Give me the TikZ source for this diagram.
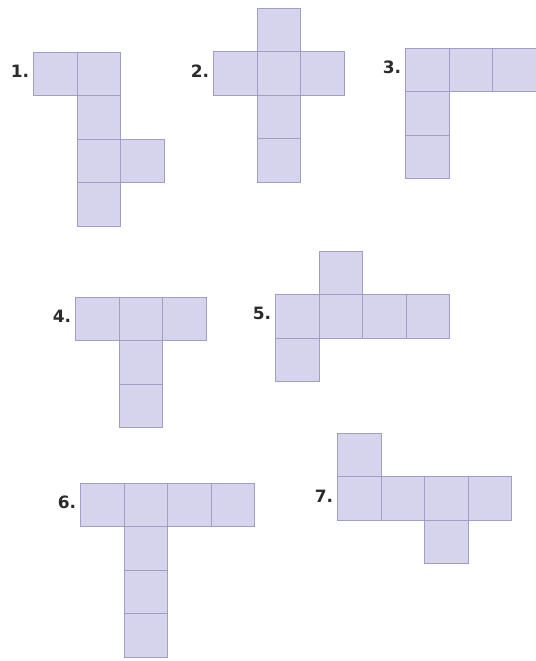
\documentclass[tikz,border=0pt]{standalone}
\usepackage{fontspec}
\setmainfont{DejaVu Sans}
\usetikzlibrary{positioning}
\definecolor{FaceFill}{HTML}{D6D3EC}
\definecolor{FaceEdge}{HTML}{A29DC8}
\definecolor{TagInk}{HTML}{2B2B2B}
\tikzset{
  face/.style={
    draw=FaceEdge,
    fill=FaceFill,
    line width=0.5pt,
    minimum size=21.75pt,
    inner sep=0pt
  },
  numtag/.style={
    inner sep=0pt,
    text=TagInk,
    font=\fontsize{8.5}{9}\selectfont\bfseries,
    yshift=1.2pt
  }
}
% #1 name, #2/#3 top-left corner (px), #4 cells col/row, #5 label
\newcommand{\cubenet}[5]{%
  \foreach \c/\r [count=\i] in {#4}
    \node[face] (#1-\i) at ({#2+43.5*\c+21.75},{#3+43.5*\r+21.75}) {};
  \node[numtag, left=2pt of #1-1] {#5};
}
\begin{document}
\begin{tikzpicture}[x=0.5pt,y=-0.5pt]
  \useasboundingbox (0,0) rectangle (536,661);
  \cubenet{one}{34}{52}{0/0,1/0,1/1,1/2,2/2,1/3}{1.}
  \cubenet{two}{214}{8}{0/1,1/0,1/1,2/1,1/2,1/3}{2.}
  \cubenet{three}{406}{48}{0/0,1/0,2/0,0/1,0/2}{3.}
  \cubenet{four}{76}{297}{0/0,1/0,2/0,1/1,1/2}{4.}
  \cubenet{five}{276}{251}{0/1,1/0,1/1,2/1,3/1,0/2}{5.}
  \cubenet{six}{81}{483}{0/0,1/0,2/0,3/0,1/1,1/2,1/3}{6.}
  \cubenet{seven}{338}{433}{0/1,0/0,1/1,2/1,3/1,2/2}{7.}
\end{tikzpicture}
\end{document}
